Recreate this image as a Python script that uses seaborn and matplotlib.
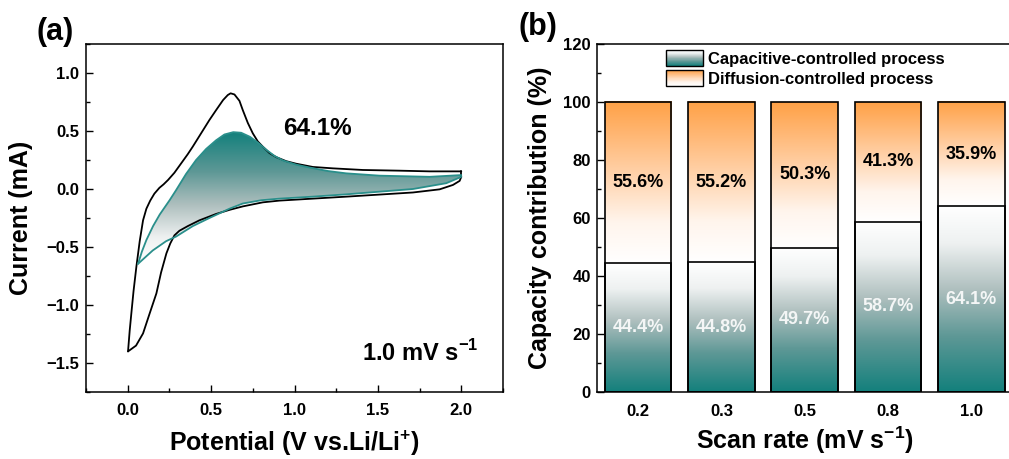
import numpy as np
import pandas as pd
import matplotlib
matplotlib.use("Agg")
import matplotlib.pyplot as plt
import seaborn as sns
from matplotlib.colors import LinearSegmentedColormap
from matplotlib.patches import Rectangle, Polygon, Patch
from matplotlib.legend_handler import HandlerBase
from matplotlib.ticker import MultipleLocator, FuncFormatter

# ---------------- data ----------------
# (a) CV at 1.0 mV/s : total current (black) and capacitive part (teal)
cv_up_x = [0.002, 0.012, 0.022, 0.035, 0.052, 0.072, 0.092, 0.112, 0.135, 0.16, 0.19, 0.215, 0.242, 0.28,
           0.32, 0.36, 0.39, 0.44, 0.49, 0.53, 0.572, 0.60, 0.617, 0.64, 0.67, 0.69, 0.72, 0.75, 0.78,
           0.81, 0.85, 0.89, 0.95, 1.01, 1.11, 1.23, 1.41, 1.63, 1.81, 2.0]
cv_up_y = [-1.40, -1.22, -1.07, -0.88, -0.67, -0.45, -0.27, -0.17, -0.10, -0.04, 0.01, 0.04, 0.078, 0.14,
           0.22, 0.30, 0.365, 0.48, 0.595, 0.68, 0.767, 0.81, 0.825, 0.815, 0.76, 0.68, 0.57, 0.48, 0.41,
           0.365, 0.31, 0.275, 0.24, 0.218, 0.19, 0.178, 0.164, 0.158, 0.152, 0.152]
cv_dn_x = [2.0, 1.99, 1.95, 1.87, 1.71, 1.51, 1.31, 1.11, 0.91, 0.81, 0.69, 0.61, 0.53, 0.43, 0.36,
           0.31, 0.28, 0.255, 0.232, 0.2, 0.172, 0.13, 0.092, 0.05, 0.002]
cv_dn_y = [0.105, 0.07, 0.035, -0.003, -0.03, -0.048, -0.066, -0.083, -0.10, -0.115, -0.15, -0.18, -0.215,
           -0.27, -0.32, -0.36, -0.40, -0.47, -0.555, -0.72, -0.90, -1.08, -1.245, -1.35, -1.40]

cap_up_x = [0.062, 0.085, 0.112, 0.152, 0.192, 0.252, 0.29, 0.35, 0.41, 0.47, 0.53, 0.58, 0.633, 0.68,
            0.733, 0.78, 0.833, 0.88, 0.933, 1.01, 1.09, 1.2, 1.31, 1.51, 1.81, 2.0]
cap_up_y = [-0.645, -0.54, -0.44, -0.32, -0.22, -0.095, -0.01, 0.13, 0.25, 0.345, 0.42, 0.47, 0.49, 0.485,
            0.45, 0.40, 0.336, 0.285, 0.245, 0.21, 0.185, 0.155, 0.135, 0.115, 0.105, 0.12]
cap_dn_x = [2.0, 1.91, 1.71, 1.51, 1.31, 1.11, 0.91, 0.80, 0.69, 0.61, 0.49, 0.39, 0.29, 0.23, 0.15, 0.062]
cap_dn_y = [0.105, 0.05, 0.0, -0.023, -0.046, -0.066, -0.083, -0.097, -0.125, -0.17, -0.25, -0.32, -0.41,
            -0.45, -0.53, -0.645]
cv_percent = "64.1%"
cv_rate = r"1.0 mV s$^{\mathregular{-1}}$"

# (b) capacity contribution
scan_rates = ["0.2", "0.3", "0.5", "0.8", "1.0"]
capacitive = [44.4, 44.8, 49.7, 58.7, 64.1]
diffusion = [55.6, 55.2, 50.3, 41.3, 35.9]

# ---------------- style ----------------
sns.set_style("ticks")
plt.rcParams["font.family"] = ["Liberation Sans", "DejaVu Sans"]
plt.rcParams["font.weight"] = "bold"
plt.rcParams["axes.labelweight"] = "bold"
plt.rcParams["mathtext.fontset"] = "custom"
plt.rcParams["mathtext.rm"] = "Liberation Sans:bold"
plt.rcParams["mathtext.bf"] = "Liberation Sans:bold"
plt.rcParams["axes.unicode_minus"] = True
for k in ["text.color", "axes.labelcolor", "xtick.color", "ytick.color", "axes.edgecolor"]:
    plt.rcParams[k] = "black"

TEAL = "#13807c"
LINE_TEAL = "#2a8f8b"
cap_cmap = LinearSegmentedColormap.from_list(
    "cap", [(0, TEAL), (0.3, "#5e9896"), (0.55, "#aebfbe"), (0.8, "#eef1f1"), (1, "#ffffff")])
diff_cmap = LinearSegmentedColormap.from_list(
    "dif", [(0, "#ffffff"), (0.25, "#fff5ed"), (0.55, "#ffd2aa"), (0.8, "#ffb672"), (1, "#ffa146")])

W, H = 1009, 459
fig = plt.figure(figsize=(W / 100, H / 100), dpi=100)
ax_a = fig.add_axes([86 / W, 1 - 392 / H, 417 / W, 348 / H])
ax_b = fig.add_axes([596.5 / W, 1 - 392 / H, 416.5 / W, 348 / H])

def style_axes(ax):
    for s in ax.spines.values():
        s.set_linewidth(1.1)
        s.set_visible(True)
        s.set_color("black")
        s.set_zorder(5)
    ax.tick_params(which="both", direction="in", width=1.0, colors="black", labelsize=12)
    ax.tick_params(which="major", length=5)
    ax.tick_params(which="minor", length=3)

grad = np.linspace(0, 1, 256).reshape(-1, 1)

# ---------------- panel (a) ----------------
style_axes(ax_a)
poly_xy = np.column_stack([cap_up_x + cap_dn_x, cap_up_y + cap_dn_y])
poly = Polygon(poly_xy, closed=True, facecolor="none", edgecolor="none")
ax_a.add_patch(poly)
im = ax_a.imshow(grad, cmap=cap_cmap, origin="upper", aspect="auto",
                 extent=(poly_xy[:, 0].min(), poly_xy[:, 0].max(),
                         poly_xy[:, 1].min(), poly_xy[:, 1].max()),
                 zorder=1)
im.set_clip_path(poly)

sns.lineplot(x=cv_up_x, y=cv_up_y, sort=False, estimator=None, color="black", lw=1.3, ax=ax_a, zorder=3)
sns.lineplot(x=cv_dn_x, y=cv_dn_y, sort=False, estimator=None, color="black", lw=1.3, ax=ax_a, zorder=3)
ax_a.plot([cv_up_x[-1], cv_dn_x[0]], [cv_up_y[-1], cv_dn_y[0]], color="black", lw=1.3, zorder=3)
sns.lineplot(x=cap_up_x, y=cap_up_y, sort=False, estimator=None, color=LINE_TEAL, lw=1.3, ax=ax_a, zorder=4)
sns.lineplot(x=cap_dn_x, y=cap_dn_y, sort=False, estimator=None, color=LINE_TEAL, lw=1.3, ax=ax_a, zorder=4)

ax_a.set_xlim(-0.25, 2.25)
ax_a.set_ylim(-1.75, 1.25)
ax_a.xaxis.set_minor_locator(MultipleLocator(0.25))
ax_a.yaxis.set_minor_locator(MultipleLocator(0.25))
ax_a.set_xticks([0, 0.5, 1.0, 1.5, 2.0])
ax_a.set_yticks([-1.5, -1.0, -0.5, 0.0, 0.5, 1.0])
ax_a.xaxis.set_major_formatter(FuncFormatter(lambda v, p: f"{v:.1f}"))
ax_a.yaxis.set_major_formatter(FuncFormatter(lambda v, p: f"{v:.1f}".replace("-", "\u2212")))
ax_a.tick_params(axis="x", pad=8)
ax_a.tick_params(axis="y", pad=5)
ax_a.set_xlabel(r"Potential (V vs.Li/Li$^{\mathregular{+}}$)", fontsize=18, fontweight="bold")
ax_a.set_ylabel("Current (mA)", fontsize=18, fontweight="bold")
ax_a.xaxis.set_label_coords(0.5, -0.105)
ax_a.yaxis.set_label_coords(-0.127, 0.5)
ax_a.text(1.14, 0.52, cv_percent, fontsize=17.5, fontweight="bold", ha="center", va="center")
ax_a.text(2.1, -1.41, cv_rate, fontsize=17, fontweight="bold", ha="right", va="center")

# ---------------- panel (b) ----------------
style_axes(ax_b)
df = pd.DataFrame({"rate": scan_rates, "cap": capacitive, "dif": diffusion})
df["total"] = df["cap"] + df["dif"]
sns.barplot(data=df, x="rate", y="total", order=scan_rates, color="white", edgecolor="black",
            linewidth=1.2, width=0.8, ax=ax_b, zorder=3)
n_tot = len(ax_b.patches)
sns.barplot(data=df, x="rate", y="cap", order=scan_rates, color="white", edgecolor="black",
            linewidth=1.2, width=0.8, ax=ax_b, zorder=3)
tot_patches = ax_b.patches[:n_tot]
cap_patches = ax_b.patches[n_tot:]
for p in ax_b.patches:
    p.set_facecolor("none")

for pt, pc, c, d in zip(tot_patches, cap_patches, capacitive, diffusion):
    x0, w = pc.get_x(), pc.get_width()
    cap_top = pc.get_y() + pc.get_height()
    top = pt.get_y() + pt.get_height()
    ax_b.imshow(grad, cmap=cap_cmap, origin="lower", aspect="auto",
                extent=(x0, x0 + w, pc.get_y(), cap_top), zorder=1)
    ax_b.imshow(grad, cmap=diff_cmap, origin="lower", aspect="auto",
                extent=(x0, x0 + w, cap_top, top), zorder=1)
    xc = x0 + w / 2
    ax_b.text(xc, (cap_top + top) / 2, f"{d:.1f}%", ha="center", va="center",
              fontsize=13, fontweight="bold", color="black", zorder=6)
    ax_b.text(xc, cap_top / 2, f"{c:.1f}%", ha="center", va="center",
              fontsize=13, fontweight="bold", color="#f4f6f6", zorder=6)

ax_b.set_xlim(-0.5, 4.5)
ax_b.set_ylim(0, 120)
ax_b.yaxis.set_major_locator(MultipleLocator(20))
ax_b.yaxis.set_minor_locator(MultipleLocator(10))
ax_b.tick_params(axis="x", length=0, pad=9)
ax_b.tick_params(axis="y", pad=4)
ax_b.set_xlabel(r"Scan rate (mV s$^{\mathregular{-1}}$)", fontsize=18, fontweight="bold")
ax_b.set_ylabel("Capacity contribution (%)", fontsize=18, fontweight="bold")
ax_b.xaxis.set_label_coords(0.5, -0.095)
ax_b.yaxis.set_label_coords(-0.106, 0.5)

class GradientHandler(HandlerBase):
    def __init__(self, cmap, n=30):
        super().__init__()
        self.cmap = cmap
        self.n = n

    def create_artists(self, legend, orig_handle, xdescent, ydescent, width, height, fontsize, trans):
        arts = []
        for i in range(self.n):
            y0 = -ydescent + height * i / self.n
            arts.append(Rectangle((-xdescent, y0), width, height / self.n * 1.1,
                                  facecolor=self.cmap((i + 0.5) / self.n), edgecolor="none",
                                  transform=trans))
        arts.append(Rectangle((-xdescent, -ydescent), width, height, facecolor="none",
                              edgecolor="black", lw=1.0, transform=trans))
        return arts

h_cap = Patch(label="Capacitive-controlled process")
h_dif = Patch(label="Diffusion-controlled process")
ax_b.legend(handles=[h_cap, h_dif],
            handler_map={h_cap: GradientHandler(cap_cmap), h_dif: GradientHandler(diff_cmap)},
            loc="upper left", bbox_to_anchor=(0.168, 0.983), frameon=False, borderpad=0,
            borderaxespad=0, handlelength=2.2, handleheight=1.1, handletextpad=0.3,
            labelspacing=0.2, prop={"size": 12, "weight": "bold"})

fig.text(37 / W, 1 - 32 / H, "(a)", fontsize=22, fontweight="bold", ha="left", va="center")
fig.text(518 / W, 1 - 27 / H, "(b)", fontsize=22, fontweight="bold", ha="left", va="center")

fig.savefig("out.png", dpi=100)
